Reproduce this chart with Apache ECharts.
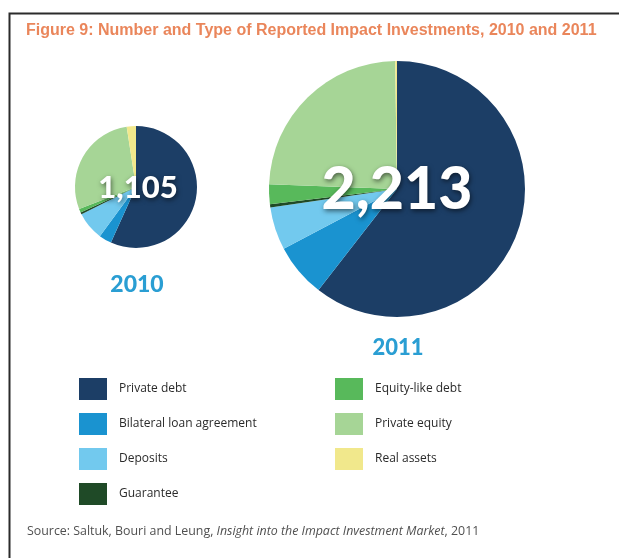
<!DOCTYPE html>
<html>
<head>
<meta charset="utf-8">
<style>
  html, body { margin: 0; padding: 0; background: #ffffff; }
  #chart { width: 619px; height: 559px; }
</style>
<script src="https://cdn.jsdelivr.net/npm/echarts@6/dist/echarts.min.js"></script>
</head>
<body>
<div id="chart"></div>
<script>
// Investment types, in drawing order (clockwise from 12 o'clock)
const categories = [
  'Private debt',
  'Bilateral loan agreement',
  'Deposits',
  'Guarantee',
  'Equity-like debt',
  'Private equity',
  'Real assets'
];

// Number of reported investments per type
const counts2010 = [627, 37, 83, 6, 11, 314, 27];
const counts2011 = [1339, 150, 120, 9, 55, 535, 5];

const years = ['2010', '2011'];

const palette = ['#1c3e66', '#1a93d0', '#72c9ee', '#1f4a27', '#58b95b', '#a6d596', '#f1e88c'];

const legendLeft = categories.slice(0, 4);
const legendRight = categories.slice(4);

const sum = arr => arr.reduce((a, b) => a + b, 0);
const fmt = n => n.toLocaleString('en-US');

const toData = vals => categories.map((name, i) => ({ name, value: vals[i] }));

const chart = echarts.init(document.getElementById('chart'), null, { renderer: 'canvas' });

const totalStyle = size => ({
  color: '#ffffff',
  fontFamily: 'Lato, "Open Sans", sans-serif',
  fontWeight: 900,
  fontSize: size,
  textShadowColor: 'rgba(0,0,0,0.55)',
  textShadowBlur: 5,
  textShadowOffsetX: 1,
  textShadowOffsetY: 2
});

const yearStyle = size => ({
  color: '#2a9ed3',
  fontFamily: 'Lato, "Open Sans", sans-serif',
  fontWeight: 900,
  fontSize: size
});

const legendBase = {
  orient: 'vertical',
  icon: 'rect',
  padding: 0,
  itemWidth: 28,
  itemHeight: 22,
  itemGap: 13,
  selectedMode: false,
  textStyle: {
    color: '#2a2a2a',
    fontFamily: '"Open Sans", sans-serif',
    fontSize: 12,
    padding: [0, 0, 0, 7]
  }
};

const sourceText = { color: '#505050', fontFamily: '"Open Sans", sans-serif', fontSize: 12.4, fontWeight: 'normal' };

chart.setOption({
  animation: false,
  color: palette,
  title: [
    {
      text: 'Figure 9: Number and Type of Reported Impact Investments, 2010 and 2011',
      left: 26, top: 23, padding: 0,
      textStyle: {
        color: '#ea865b',
        fontFamily: '"Liberation Sans Narrow", "Liberation Sans", sans-serif',
        fontWeight: 'bold',
        fontSize: 16
      }
    },
    {
      text: fmt(sum(counts2010)),
      left: 138, top: 188, padding: 0,
      textAlign: 'center', textVerticalAlign: 'middle',
      textStyle: totalStyle(31)
    },
    {
      text: fmt(sum(counts2011)),
      left: 397, top: 190, padding: 0,
      textAlign: 'center', textVerticalAlign: 'middle',
      textStyle: totalStyle(59)
    },
    {
      text: years[0],
      left: 137, top: 285, padding: 0,
      textAlign: 'center', textVerticalAlign: 'middle',
      textStyle: yearStyle(23)
    },
    {
      text: years[1],
      left: 398, top: 348, padding: 0,
      textAlign: 'center', textVerticalAlign: 'middle',
      textStyle: yearStyle(22)
    },
    {
      text: '{n|Source: Saltuk, Bouri and Leung, }{i|Insight into the Impact Investment Market}{n|, 2011}',
      left: 27, top: 525, padding: 0,
      textStyle: {
        fontWeight: 'normal',
        rich: {
          n: sourceText,
          i: Object.assign({}, sourceText, { fontStyle: 'italic' })
        }
      }
    }
  ],
  legend: [
    Object.assign({}, legendBase, { left: 79, top: 378, data: legendLeft }),
    Object.assign({}, legendBase, { left: 335, top: 378, data: legendRight })
  ],
  graphic: [
    {
      type: 'polyline',
      silent: true,
      shape: { points: [[9.5, 558], [9.5, 13.5], [620, 13.5]] },
      style: { stroke: '#2b2b2b', lineWidth: 2, fill: null }
    }
  ],
  series: [
    {
      name: years[0],
      type: 'pie',
      center: [136, 187],
      radius: 61,
      startAngle: 90,
      clockwise: true,
      label: { show: false },
      labelLine: { show: false },
      emphasis: { disabled: true },
      itemStyle: { borderWidth: 0 },
      data: toData(counts2010)
    },
    {
      name: years[1],
      type: 'pie',
      center: [397, 189],
      radius: 128,
      startAngle: 90,
      clockwise: true,
      label: { show: false },
      labelLine: { show: false },
      emphasis: { disabled: true },
      itemStyle: { borderWidth: 0 },
      data: toData(counts2011)
    }
  ]
});
</script>
</body>
</html>
